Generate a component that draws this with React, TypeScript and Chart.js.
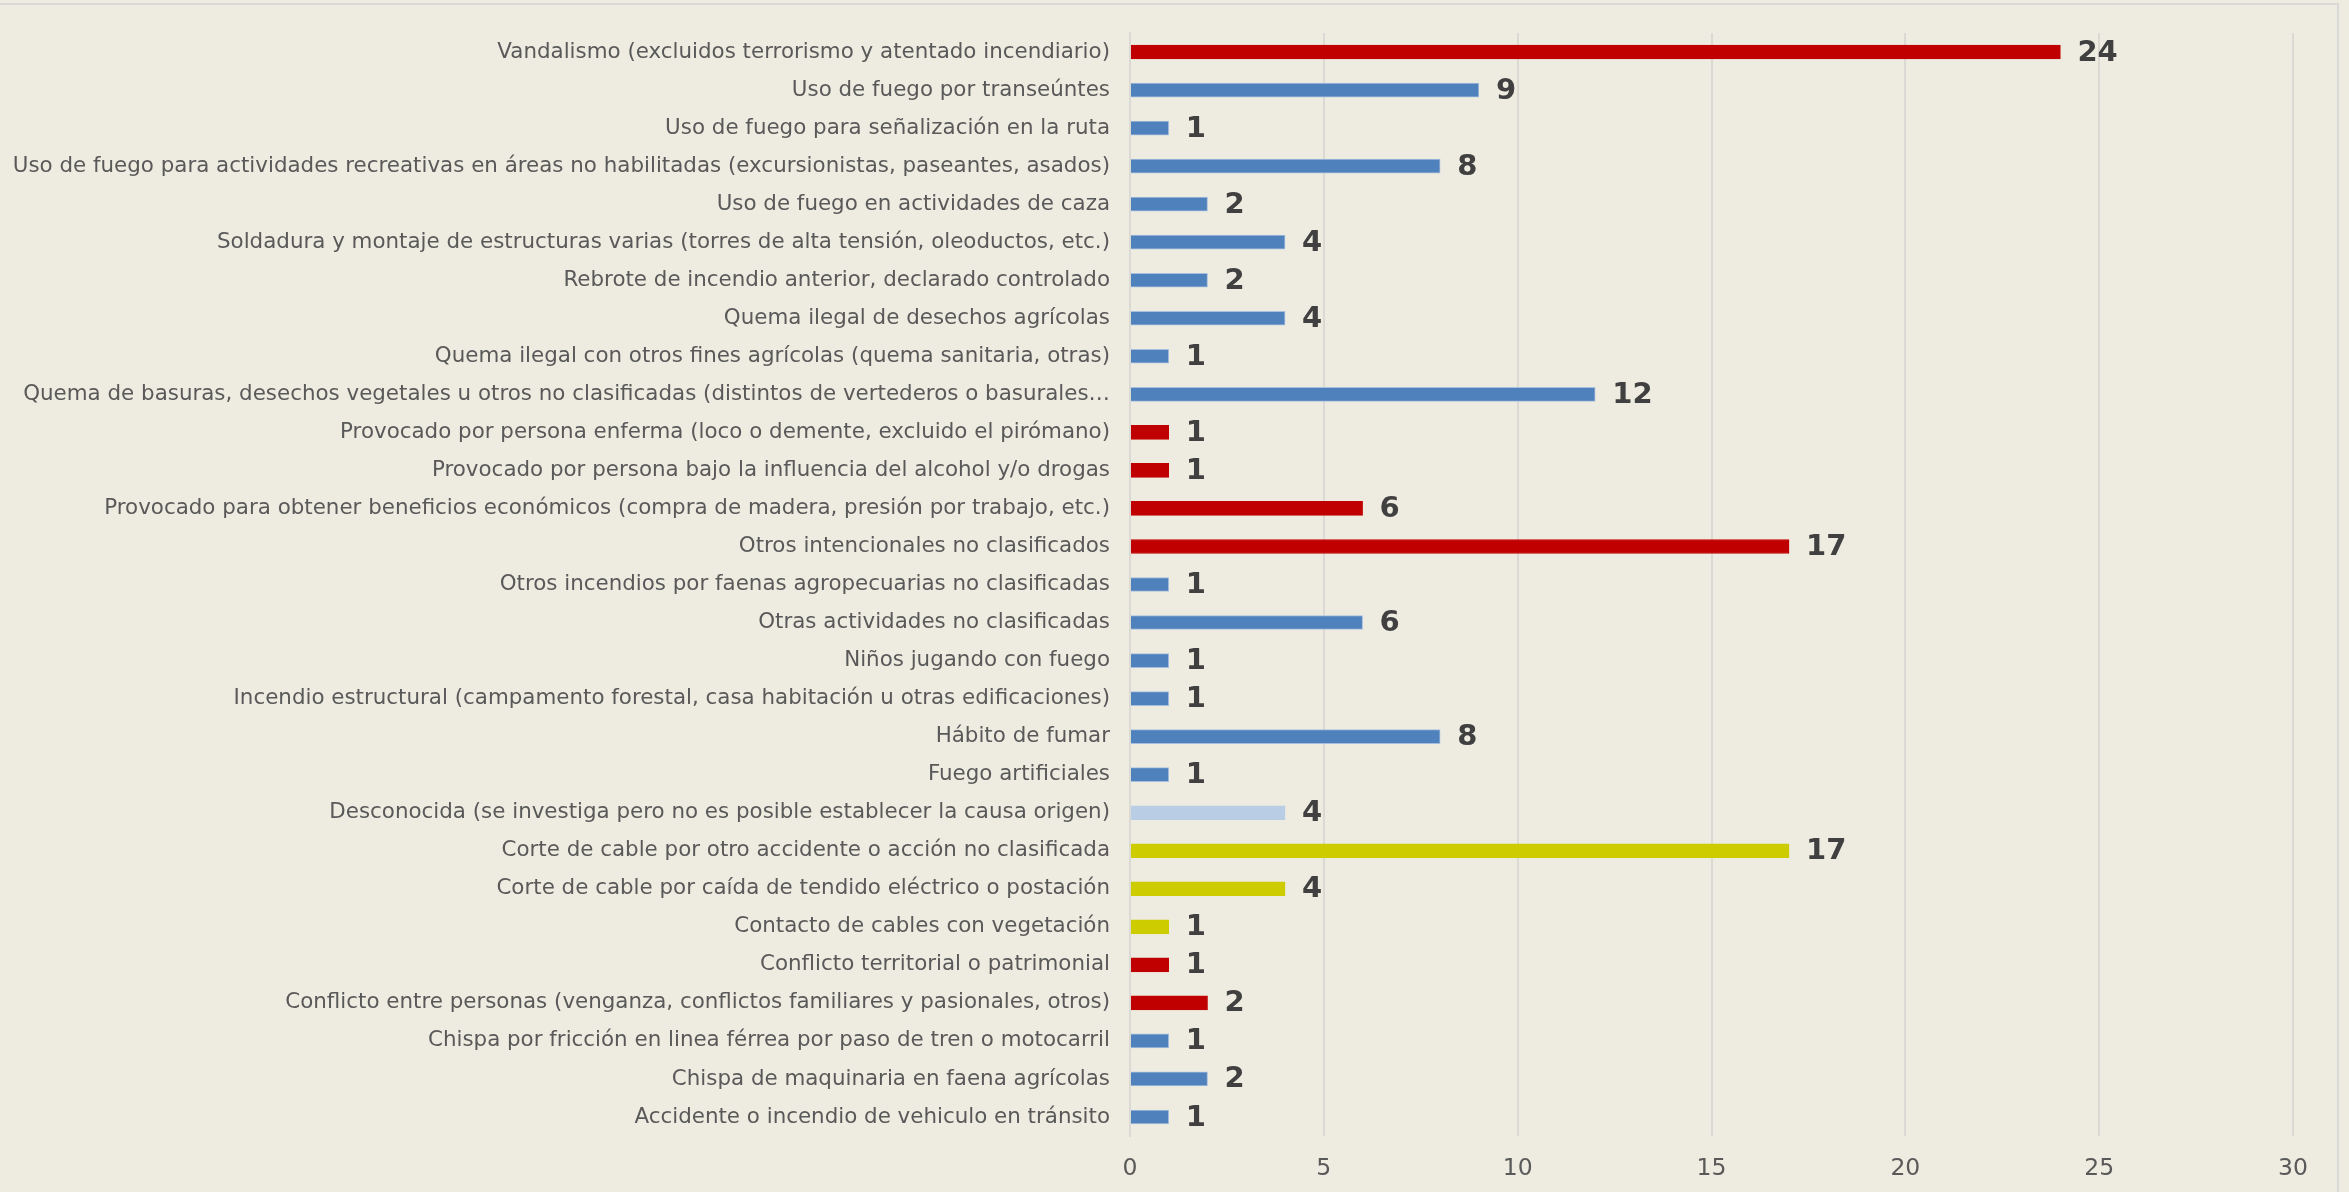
import React, { useEffect, useRef } from "react";
import { Chart, registerables } from "chart.js";

Chart.register(...registerables);

const categories: string[] = [
  "Vandalismo (excluidos terrorismo y atentado incendiario)",
  "Uso de fuego por transeúntes",
  "Uso de fuego para señalización en la ruta",
  "Uso de fuego para actividades recreativas en áreas no habilitadas (excursionistas, paseantes, asados)",
  "Uso de fuego en actividades de caza",
  "Soldadura y montaje de estructuras varias (torres de alta tensión, oleoductos, etc.)",
  "Rebrote de incendio anterior, declarado controlado",
  "Quema ilegal de desechos agrícolas",
  "Quema ilegal con otros fines agrícolas (quema sanitaria, otras)",
  "Quema de basuras, desechos vegetales u otros no clasificadas (distintos de vertederos o basurales…",
  "Provocado por persona enferma (loco o demente, excluido el pirómano)",
  "Provocado por persona bajo la influencia del alcohol y/o drogas",
  "Provocado para obtener beneficios económicos (compra de madera, presión por trabajo, etc.)",
  "Otros intencionales no clasificados",
  "Otros incendios por faenas agropecuarias no clasificadas",
  "Otras actividades no clasificadas",
  "Niños jugando con fuego",
  "Incendio estructural (campamento forestal, casa habitación u otras edificaciones)",
  "Hábito de fumar",
  "Fuego artificiales",
  "Desconocida (se investiga pero no es posible establecer la causa origen)",
  "Corte de cable por otro accidente o acción no clasificada",
  "Corte de cable por caída de tendido eléctrico o postación",
  "Contacto de cables con vegetación",
  "Conflicto territorial o patrimonial",
  "Conflicto entre personas (venganza, conflictos familiares y pasionales, otros)",
  "Chispa por fricción en linea férrea por paso de tren o motocarril",
  "Chispa de maquinaria en faena agrícolas",
  "Accidente o incendio de vehiculo en tránsito",
];

const values: number[] = [
  24, 9, 1, 8, 2, 4, 2, 4, 1, 12, 1, 1, 6, 17, 1, 6, 1, 1, 8, 1, 4, 17, 4, 1, 1, 2, 1, 2, 1,
];

// cause group of each category
const groups: string[] = [
  "intencional", "accidental", "accidental", "accidental", "accidental", "accidental",
  "accidental", "accidental", "accidental", "accidental", "intencional", "intencional",
  "intencional", "intencional", "accidental", "accidental", "accidental", "accidental",
  "accidental", "accidental", "desconocida", "electrica", "electrica", "electrica",
  "intencional", "intencional", "accidental", "accidental", "accidental",
];

const xTicks: number[] = [0, 5, 10, 15, 20, 25, 30];

const groupColors: Record<string, string> = {
  intencional: "#C00000",
  accidental: "#4F81BD",
  desconocida: "#B9CDE5",
  electrica: "#CCCC00",
};
const groupBorders: Record<string, string> = {
  intencional: "#C00000",
  accidental: "#A7BFDE",
  desconocida: "#B9CDE5",
  electrica: "#CCCC00",
};

const FONT = "'DejaVu Sans', Verdana, sans-serif";

const valueLabels = {
  id: "valueLabels",
  afterDatasetsDraw(chart: any) {
    const ctx = chart.ctx;
    const meta = chart.getDatasetMeta(0);
    ctx.save();
    ctx.font = `bold 29px ${FONT}`;
    ctx.fillStyle = "#404040";
    ctx.textAlign = "left";
    ctx.textBaseline = "middle";
    meta.data.forEach((bar: any, i: number) => {
      ctx.fillText(String(values[i]), bar.x + 17, bar.y + 1);
    });
    ctx.restore();
  },
};

export default function App() {
  const ref = useRef<HTMLCanvasElement | null>(null);

  useEffect(() => {
    if (!ref.current) return;
    const chart = new Chart(ref.current, {
      type: "bar",
      data: {
        labels: categories,
        datasets: [
          {
            data: values,
            backgroundColor: groups.map((g) => groupColors[g]),
            borderColor: groups.map((g) => groupBorders[g]),
            borderWidth: 1,
            barThickness: 14,
          },
        ],
      },
      options: {
        indexAxis: "y",
        animation: false,
        responsive: false,
        devicePixelRatio: 1,
        layout: { padding: { top: 33, right: 56, bottom: 0, left: 0 } },
        plugins: {
          legend: { display: false },
          tooltip: { enabled: false },
        },
        scales: {
          x: {
            min: 0,
            max: 30,
            afterBuildTicks: (scale: any) => {
              scale.ticks = xTicks.map((v) => ({ value: v }));
            },
            afterFit: (scale: any) => {
              scale.height = 56;
            },
            grid: { color: "#DAD9D4", lineWidth: 2, drawTicks: false },
            border: { display: false },
            ticks: {
              padding: 19,
              color: "#595959",
              font: { family: FONT, size: 23.5 },
            },
          },
          y: {
            afterFit: (scale: any) => {
              scale.width = 1130;
            },
            grid: { display: false, drawTicks: false },
            border: { display: true, color: "#DAD9D4", width: 2 },
            ticks: {
              padding: 20,
              color: "#595959",
              autoSkip: false,
              font: { family: FONT, size: 21.4 },
            },
          },
        },
      },
      plugins: [valueLabels],
    });
    return () => chart.destroy();
  }, []);

  return (
    <div
      style={{
        position: "fixed",
        left: 0,
        top: 0,
        width: 2349,
        height: 1192,
        background: "#EEECE1",
        overflow: "hidden",
      }}
    >
      <div
        style={{
          position: "absolute",
          left: -4,
          top: 3,
          width: 2343,
          height: 1300,
          borderTop: "2px solid #D9D9D9",
          borderRight: "2px solid #D9D9D9",
          boxSizing: "border-box",
        }}
      />
      <canvas
        ref={ref}
        width={2349}
        height={1192}
        style={{ position: "absolute", left: 0, top: 0 }}
      />
    </div>
  );
}
